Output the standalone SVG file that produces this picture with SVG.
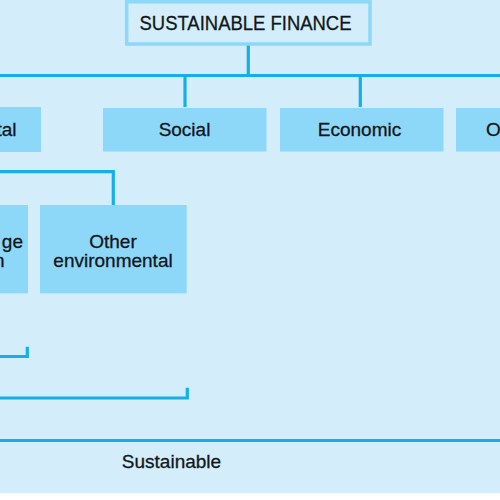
<svg xmlns="http://www.w3.org/2000/svg" width="500" height="500" viewBox="0 0 500 500">
<style>
.bg{fill:#D3EEFA}
.box{fill:#8DD8F8}
.title{fill:#D3EEFA;stroke:#8DD8F8;stroke-width:3.5}
.ln{fill:none;stroke:#14AEEA;stroke-width:3.2}
text{font-family:"Liberation Sans",Arial,sans-serif;font-size:19px;fill:#12161a;stroke:#12161a;stroke-width:0.3;text-anchor:middle}
</style>
<rect x="0" y="0" width="500" height="500" fill="#ffffff"/>
<rect class="bg" x="0" y="0" width="500" height="493"/>
<g id="connectors">
<path class="ln" d="M248.3 45 V75.5 M0 75.5 H500 M185 75.5 V107 M360.3 75.5 V107"/>
<path class="ln" d="M0 171.7 H113.3 V205"/>
<path class="ln" d="M0 356.5 H27.3 V346.7"/>
<path class="ln" d="M0 398 H187.3 V387.7"/>
<path class="ln" d="M0 440.5 H500"/>
</g>
<g id="n-sustainable-finance">
<rect class="title" x="126.7" y="1.8" width="243.3" height="42.2"/>
<text x="245.5" y="30" style="font-size:20.5px" textLength="212" lengthAdjust="spacingAndGlyphs">SUSTAINABLE FINANCE</text>
</g>
<g id="n-environmental">
<rect class="box" x="-130" y="107" width="171" height="45"/>
<text x="16.5" y="135.5" style="text-anchor:end">tal</text>
</g>
<g id="n-social">
<rect class="box" x="103" y="108" width="163.5" height="43.5"/>
<text x="184.5" y="136">Social</text>
</g>
<g id="n-economic">
<rect class="box" x="280" y="108" width="163.5" height="43.5"/>
<text x="359.5" y="136">Economic</text>
</g>
<g id="n-other">
<rect class="box" x="456" y="108" width="60" height="43.5"/>
<text x="486" y="136" style="text-anchor:start">O</text>
</g>
<g id="n-climate">
<rect class="box" x="-120" y="205" width="148" height="88.3"/>
<text x="23" y="248" style="text-anchor:end">ge</text>
<text x="4.5" y="267" style="text-anchor:end">n</text>
</g>
<g id="n-other-environmental">
<rect class="box" x="40" y="205" width="146.7" height="88.3"/>
<text x="113" y="248">Other</text>
<text x="113" y="267">environmental</text>
</g>
<g id="label-sustainable">
<text x="171.5" y="468">Sustainable</text>
</g>
</svg>
